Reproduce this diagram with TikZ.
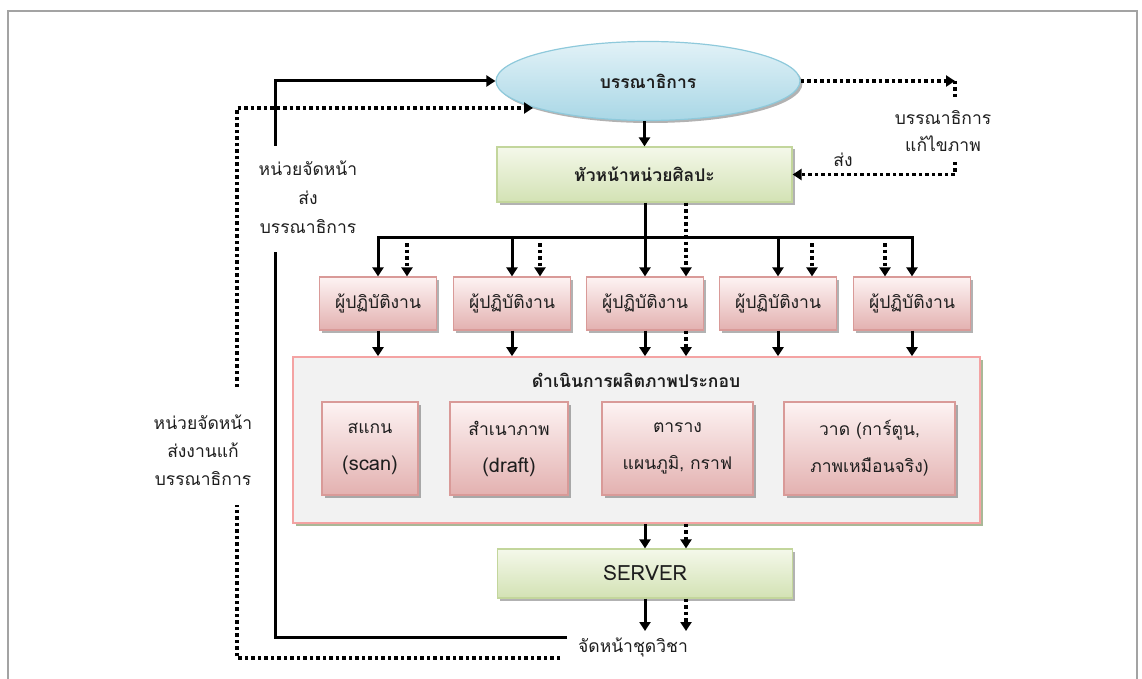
\documentclass[tikz,border=0pt]{standalone}
\usepackage{fontspec}
\setmainfont[Script=Thai]{Loma}
\usetikzlibrary{arrows.meta,shapes.geometric,shadows}

\definecolor{ink}{HTML}{1E1E1E}
\definecolor{frameg}{HTML}{A3A3A3}
\definecolor{blueTop}{HTML}{E2F2F7}
\definecolor{blueBot}{HTML}{A9D7E6}
\definecolor{blueLine}{HTML}{8EC9DB}
\definecolor{greenTop}{HTML}{F4F8EA}
\definecolor{greenBot}{HTML}{D3E2B4}
\definecolor{greenLine}{HTML}{C3D69C}
\definecolor{pinkTop}{HTML}{FDF3F3}
\definecolor{pinkBot}{HTML}{E3B1B0}
\definecolor{pinkLine}{HTML}{D99A98}
\definecolor{bigFill}{HTML}{F2F2F2}
\definecolor{bigLine}{HTML}{F4A3A3}
\definecolor{bigShade}{HTML}{A9B897}

\newcommand{\latintext}[1]{{\fontsize{20}{20}\selectfont #1}}

\begin{document}
\begin{tikzpicture}[x=1pt,y=-1pt,
  font=\fontsize{17.5}{20}\selectfont, text=ink,
  solidarrow/.style={line width=3pt,-{Triangle[length=9pt,width=11pt]}},
  plainline/.style={line width=3pt},
  dotline/.style={line width=3.5pt,dash pattern=on 3.5pt off 3pt},
  dotarrow/.style={dotline,-{Triangle[length=9pt,width=11pt]}},
  boxshadow/.style={drop shadow={shadow xshift=2.5pt,shadow yshift=-2.5pt,fill=black,opacity=0.3}},
  edbox/.style={ellipse,draw=blueLine,line width=1.2pt,top color=blueTop,bottom color=blueBot,
    minimum width=304,minimum height=79,inner sep=0pt,boxshadow},
  greenbox/.style={rectangle,draw=greenLine,line width=1.2pt,top color=greenTop,bottom color=greenBot,
    minimum width=295,inner sep=0pt,boxshadow},
  workbox/.style={rectangle,draw=pinkLine,line width=1.2pt,top color=pinkTop,bottom color=pinkBot,
    minimum width=117,minimum height=53,inner sep=0pt,boxshadow},
  taskbox/.style={rectangle,draw=pinkLine,line width=1.2pt,top color=pinkTop,bottom color=pinkBot,
    minimum height=93,inner sep=0pt,align=center,font=\fontsize{17.5}{37}\selectfont,boxshadow},
  bigbox/.style={rectangle,draw=bigLine,line width=1.6pt,fill=bigFill,
    minimum width=687,minimum height=166,inner sep=0pt,
    drop shadow={shadow xshift=3pt,shadow yshift=-3pt,fill=bigShade,opacity=1}},
  note/.style={align=center,inner sep=0pt}
]
\useasboundingbox (0,0) rectangle (1142,679);

% page frame
\draw[frameg,line width=2pt] (8,700) -- (8,11) -- (1137,11) -- (1137,700);

% main nodes
\node[edbox] (ed) at (648,81) {\bfseries บรรณาธิการ};
\node[greenbox,minimum height=55] (head) at (644.5,174.5) {\bfseries หัวหน้าหน่วยศิลปะ};

\node[workbox] (w1) at (378,303.5) {ผู้ปฏิบัติงาน};
\node[workbox] (w2) at (512,303.5) {ผู้ปฏิบัติงาน};
\node[workbox] (w3) at (645,303.5) {ผู้ปฏิบัติงาน};
\node[workbox] (w4) at (778,303.5) {ผู้ปฏิบัติงาน};
\node[workbox] (w5) at (912,303.5) {ผู้ปฏิบัติงาน};

\node[bigbox] (big) at (636.5,440) {};
\node[inner sep=0pt] (bigtitle) at (636,380) {\bfseries ดำเนินการผลิตภาพประกอบ};

\node[taskbox,minimum width=96] (tA) at (370,448.5) {สแกน\\\latintext{(scan)}};
\node[taskbox,minimum width=118] (tB) at (509,448.5) {สำเนาภาพ\\\latintext{(draft)}};
\node[taskbox,minimum width=151] (tC) at (677.5,448.5) {ตาราง\\แผนภูมิ, กราฟ};
\node[taskbox,minimum width=171] (tD) at (869.5,448.5) {วาด (การ์ตูน,\\ภาพเหมือนจริง)};

\node[greenbox,minimum height=49,font=\fontsize{21}{24}\selectfont] (srv) at (645,573.5) {SERVER};
\node[inner sep=0pt] (out) at (633,647) {จัดหน้าชุดวิชา};

% side labels
\node[note,font=\fontsize{17.5}{29}\selectfont] (lblA) at (308,197) {หน่วยจัดหน้า\\ส่ง\\บรรณาธิการ};
\node[note,font=\fontsize{17.5}{28}\selectfont] (lblB) at (203,450) {หน่วยจัดหน้า\\ส่งงานแก้\\บรรณาธิการ};
\node[note,font=\fontsize{17.5}{27}\selectfont] (lblC) at (943,131) {บรรณาธิการ\\แก้ไขภาพ};
\node[inner sep=0pt] (lblD) at (843,160) {ส่ง};

% editor -> head
\draw[solidarrow] (ed.south -| head.south) -- (head.north);

% head -> workers
\coordinate (bl) at (378,237);
\coordinate (br) at (912,237);
\draw[plainline,line cap=rect] (bl) -- (br);
\foreach \w in {w1,w2,w4,w5} \draw[solidarrow] (\w.north |- bl) -- (\w.north);
\draw[solidarrow] (w3.north |- head.south) -- (w3.north);

\coordinate (d1) at (407,243);
\coordinate (d2) at (540,243);
\coordinate (d3) at (686,0);
\coordinate (d4) at (812,243);
\coordinate (d5) at (885,243);
\draw[dotarrow] (d1) -- (d1 |- w1.north);
\draw[dotarrow] (d2) -- (d2 |- w2.north);
\draw[dotarrow] (d4) -- (d4 |- w4.north);
\draw[dotarrow] (d5) -- (d5 |- w5.north);
\draw[dotarrow] (head.south -| d3) -- (w3.north -| d3);

% workers -> production
\foreach \w in {w1,w2,w3,w4,w5} \draw[solidarrow] (\w.south) -- (\w.south |- big.north);
\draw[dotarrow] (w3.south -| d3) -- (big.north -| d3);

% production -> server -> layout
\draw[solidarrow] (srv.north |- big.south) -- (srv.north);
\draw[dotarrow] (big.south -| d3) -- (srv.north -| d3);
\coordinate (outs) at (645,631);
\draw[solidarrow] (srv.south) -- (outs);
\draw[dotarrow] (srv.south -| d3) -- (outs -| d3);

% layout back to editor (solid)
\coordinate (sA) at (567,637);
\coordinate (sB) at (275,252);
\coordinate (sC) at (275,146);
\draw[plainline] (sA) -| (sB);
\draw[solidarrow] (sC) |- (ed.west);

% corrections back to editor (dotted)
\coordinate (dA) at (560,658);
\coordinate (dB) at (237,505);
\coordinate (dC) at (237,387);
\coordinate (dD) at (533,108);
\draw[dotline] (dA) -| (dB);
\draw[dotarrow] (dC) |- (dD);

% editor image corrections back to head (dotted)
\coordinate (rA) at (955,81);
\coordinate (rB) at (955,100);
\coordinate (rC) at (955,162);
\draw[dotarrow] (ed.east) -- (rA);
\draw[dotline] (rA) -- (rB);
\draw[dotarrow] (rC) |- (head.east);
\end{tikzpicture}
\end{document}
